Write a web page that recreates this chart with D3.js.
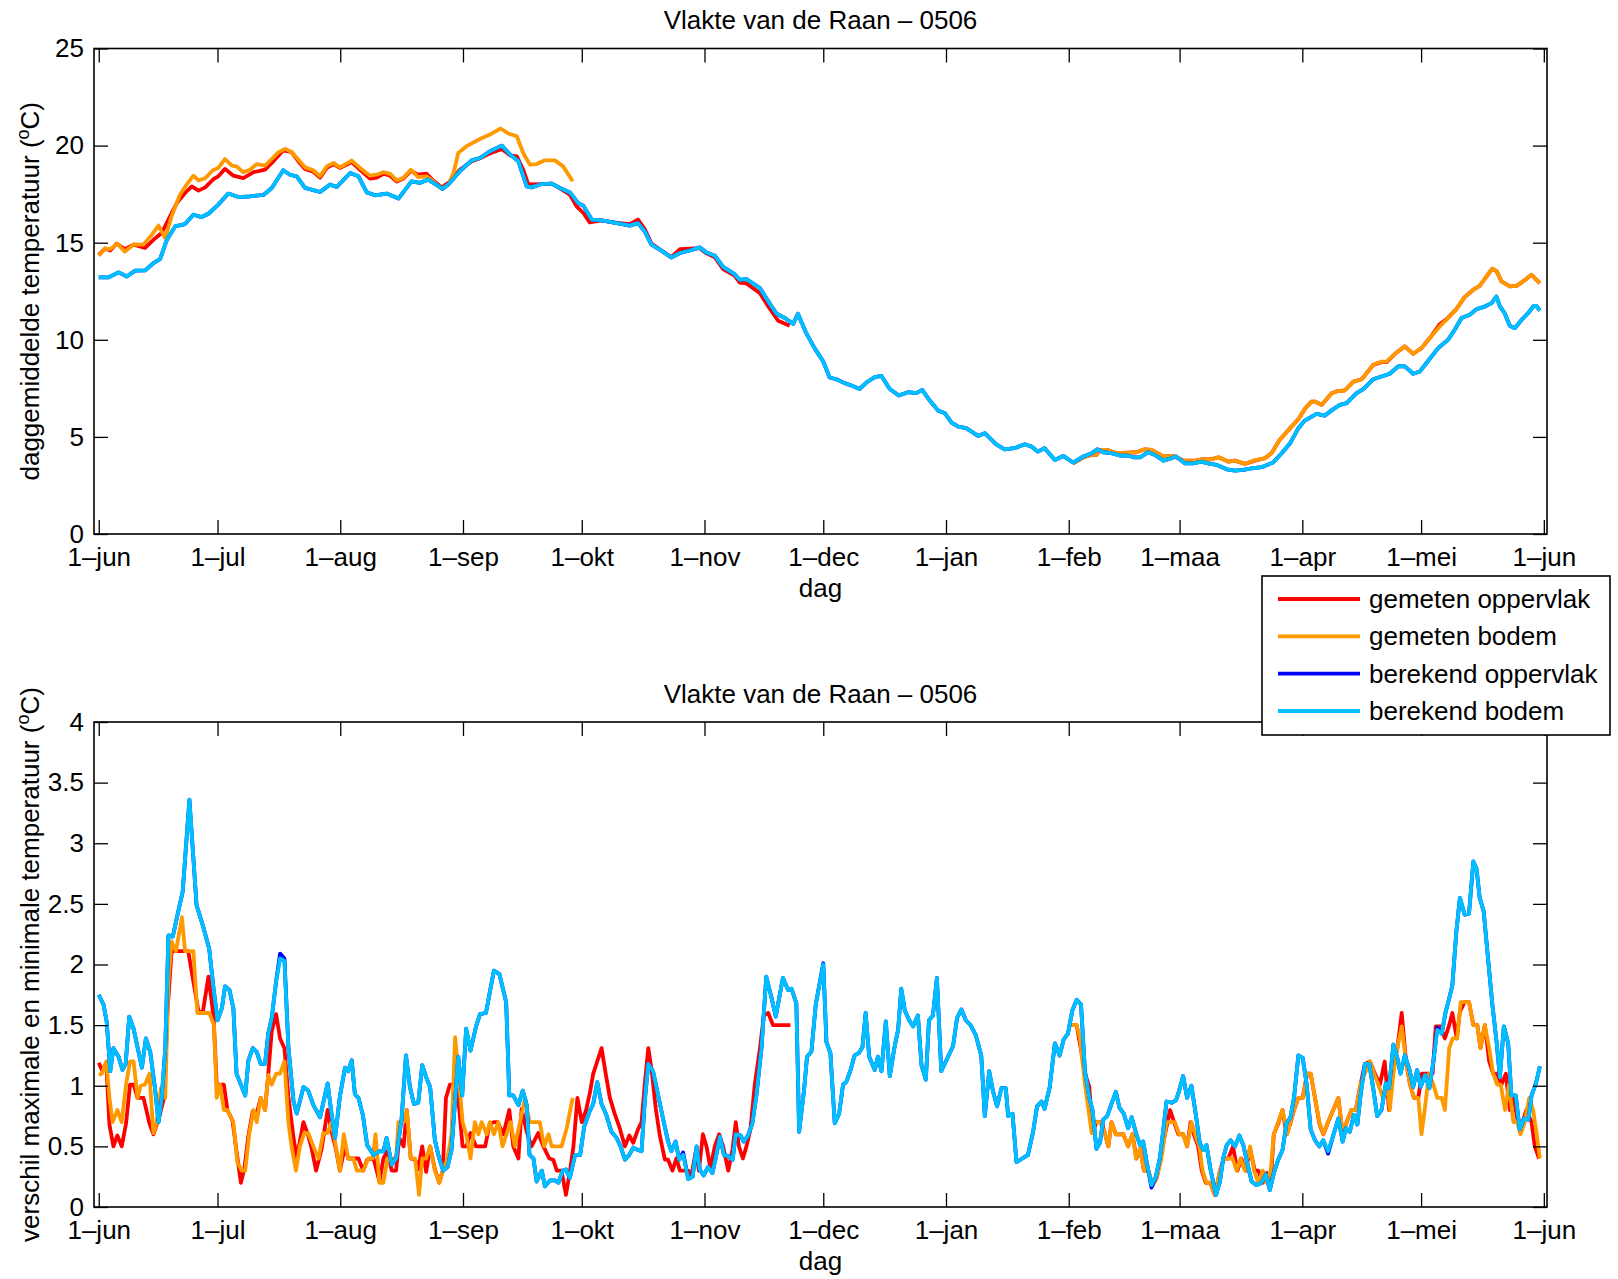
<!DOCTYPE html>
<html><head><meta charset="utf-8">
<script src="https://cdn.jsdelivr.net/npm/d3@7"></script>
<style>
body{margin:0;background:#fff}
svg text{font-family:"Liberation Sans",Arial,Helvetica,sans-serif;fill:#000}
</style>
</head><body>
<svg id="chart" width="1618" height="1279"></svg>
<script>
// ---------- data (day = days since 1 June 2005) ----------
const monthTicks = [0,30,61,92,122,153,183,214,245,273,304,334,365];
const monthLabels = ["1–jun","1–jul","1–aug","1–sep","1–okt","1–nov","1–dec","1–jan","1–feb","1–maa","1–apr","1–mei","1–jun"];
const topYTicks = [0,5,10,15,20,25];
const botYTicks = [0,0.5,1,1.5,2,2.5,3,3.5,4];
const seriesNames = ["gemeten oppervlak","gemeten bodem","berekend oppervlak","berekend bodem"];
const seriesColors = ["#ff0000","#ff9900","#0000ff","#00bfff"];

// daily mean temperature
const topGemetenOppervlak = [[0,14.38],[1.6,14.7],[2.9,14.6],[4.5,14.95],[6.6,14.67],[8.8,14.9],[11.7,14.73],[13.8,15.15],[15.9,15.5],[18,16.36],[19.7,17.04],[21.8,17.56],[23.5,17.9],[25.2,17.68],[26.9,17.85],[29,18.28],[30.2,18.42],[31.9,18.8],[34,18.45],[36.5,18.33],[39.1,18.63],[42,18.76],[43.7,19.11],[46.6,19.76],[48.7,19.66],[50.4,19.2],[52.1,18.8],[54.2,18.65],[55.9,18.35],[57.6,18.85],[59.3,19.05],[60.9,18.85],[63.9,19.15],[66,18.75],[68.5,18.3],[70.2,18.35],[71.9,18.55],[73.6,18.45],[75.3,18.15],[76.9,18.3],[78.8,18.7],[80.7,18.5],[82.8,18.55],[84.5,18.2],[86.6,17.85],[88.3,18.08],[91.2,18.75],[94.2,19.19],[96.3,19.35],[98.8,19.6],[101.8,19.83],[103.9,19.5],[105.6,19.45],[107.2,18.76],[108.5,18.0],[111.9,18.02],[114.4,18.04],[116.5,17.8],[119,17.47],[120.7,16.87],[122.4,16.53],[124,16.05],[127,16.15],[129.9,16.05],[134.1,15.95],[136.2,16.19],[137.9,15.7],[139.6,14.95],[142.1,14.6],[144.6,14.26],[146.8,14.67],[149.3,14.7],[151.8,14.72],[153.5,14.45],[155.6,14.25],[157.7,13.64],[160.6,13.3],[161.9,12.95],[163.6,12.9],[167,12.4],[169.1,11.72],[171.6,10.98],[174.5,10.72],null,
[246.1,3.64],[248.7,3.95],[250.8,4.07],[252,4.07],[252.9,4.33],[254.6,4.33],[257.1,4.16],[260,4.19],[262.1,4.21],[264.2,4.36],[265.9,4.33],[268.9,3.99],[271.4,4.02],[273.9,3.78],[276.9,3.78],[279,3.85],[281.1,3.85],[282.8,3.95],[285.3,3.73],[287,3.78],[289.5,3.61],[292,3.78],[294.5,3.9],[296.2,4.16],[298.3,4.85],[300.9,5.45],[303,5.91],[304.6,6.43],[306.3,6.82],[307.2,6.82],[308.9,6.65],[311.4,7.25],[312.6,7.34],[314.7,7.39],[316.9,7.85],[319,7.97],[321.9,8.71],[324,8.85],[325.3,8.85],[327.8,9.35],[329.9,9.66],[332,9.28],[334.1,9.57],[336.2,10.09],[338.7,10.8],[340.4,11.05],[342.9,11.58],[345,12.2],[347.2,12.58],[348.8,12.78],[350.5,13.26],[352,13.66],[353.1,13.52],[354.3,13.01],[356.4,12.75],[358.1,12.78],[359.8,13.01],[361.9,13.35],[362.7,13.18],[364,12.92]];

const topGemetenBodem = [[0,14.33],[1.6,14.7],[2.9,14.67],[4.7,14.95],[6.6,14.54],[8.8,14.91],[11.3,14.9],[13.4,15.41],[15.1,15.88],[16.8,15.24],[18.4,16.36],[20.5,17.47],[22.2,17.99],[23.9,18.45],[25.2,18.21],[26.9,18.32],[28.8,18.73],[30.2,18.85],[31.9,19.31],[33.6,18.97],[34.8,18.93],[36.5,18.63],[38.2,18.76],[39.9,19.05],[42,18.97],[43.7,19.31],[45.4,19.66],[47.1,19.83],[48.7,19.67],[50.4,19.28],[52.1,18.88],[54.2,18.73],[55.9,18.42],[57.6,18.93],[59.3,19.11],[60.9,18.88],[63.9,19.23],[66,18.85],[68.5,18.45],[70.2,18.5],[71.9,18.63],[73.6,18.54],[75.3,18.21],[76.9,18.33],[78.8,18.76],[80.7,18.38],[82.8,18.42],[84.5,18.16],[86.6,17.77],[88.3,17.99],[89.6,18.59],[90.8,19.62],[92.9,19.97],[96.3,20.34],[98.8,20.57],[101.5,20.88],[103.5,20.62],[105.6,20.48],[107.2,19.62],[108.9,19.02],[110.6,19.05],[112.7,19.24],[115.2,19.24],[117.3,18.93],[119.7,18.16],null,
[246.1,3.64],[248.7,3.95],[250.8,4.07],[252,4.07],[252.9,4.33],[254.6,4.33],[257.1,4.16],[260,4.19],[262.1,4.21],[264.2,4.36],[265.9,4.33],[268.9,3.99],[271.4,4.02],[273.9,3.78],[276.9,3.78],[279,3.85],[281.1,3.85],[282.8,3.95],[285.3,3.73],[287,3.78],[289.5,3.61],[292,3.81],[294.5,3.9],[296.2,4.16],[298.3,4.85],[300.9,5.45],[303,5.91],[304.6,6.43],[306.3,6.82],[307.2,6.82],[308.9,6.65],[311.4,7.25],[312.6,7.34],[314.7,7.39],[316.9,7.85],[319,7.97],[321.9,8.71],[324,8.88],[325.3,8.88],[327.8,9.35],[329.9,9.66],[332,9.28],[334.1,9.57],[336.2,10.09],[338.7,10.69],[340.4,11.03],[342.9,11.58],[345,12.2],[347.2,12.58],[348.8,12.78],[350.5,13.26],[352,13.66],[353.1,13.52],[354.3,13.01],[356.4,12.75],[358.1,12.78],[359.8,13.01],[361.9,13.35],[362.7,13.18],[364,12.92]];

const topBerekendOppervlak = [[0,13.21],[2.4,13.21],[5,13.47],[7.1,13.26],[9.2,13.56],[11.7,13.57],[13.8,13.95],[15.5,14.16],[17.2,15.15],[19.3,15.84],[21.8,15.96],[23.9,16.44],[26,16.32],[27.7,16.49],[30.2,16.96],[32.7,17.53],[35.3,17.35],[38.2,17.39],[41.6,17.46],[43.7,17.82],[46.6,18.73],[48.3,18.5],[50,18.42],[52.1,17.82],[55.9,17.61],[58.4,17.99],[60.1,17.87],[63.5,18.59],[65.6,18.42],[67.7,17.59],[69.8,17.44],[72.7,17.53],[75.7,17.27],[79,18.16],[81.1,18.08],[83.2,18.25],[86.9,17.77],[88.7,18.08],[91.2,18.68],[94.2,19.24],[96.3,19.36],[98.8,19.71],[101.8,20],[103.9,19.54],[106,19.19],[108.1,17.9],[109.3,17.85],[111.9,18.02],[114.4,18.04],[116.5,17.82],[119,17.59],[121.1,17.04],[122.4,16.91],[124.5,16.19],[127,16.15],[129.9,16.05],[134.1,15.88],[136.2,16.01],[137.9,15.58],[139.6,14.9],[142.1,14.59],[144.6,14.24],[146.8,14.47],[149.3,14.6],[151.8,14.76],[153.5,14.5],[155.6,14.33],[157.7,13.75],[160.6,13.38],[161.9,13.09],[163.6,13.13],[167,12.66],[169.1,11.98],[171.2,11.34],[173.3,11.12],[175.4,10.82],[176.6,11.34],[178.7,10.34],[180.8,9.57],[183,8.88],[184.6,8.06],[186.3,7.97],[188.4,7.77],[190.1,7.65],[192.2,7.47],[193.9,7.8],[196,8.08],[197.7,8.14],[199.8,7.47],[202.1,7.13],[204.4,7.3],[206.5,7.25],[208,7.42],[209.9,6.87],[212,6.36],[213.7,6.22],[215.4,5.74],[217.1,5.53],[219.1,5.45],[222.1,5.05],[223.8,5.19],[226.7,4.62],[228.8,4.36],[231.3,4.42],[233.9,4.62],[235.6,4.5],[237.2,4.24],[238.9,4.42],[241.5,3.81],[243.6,4.02],[246.1,3.68],[248.7,3.99],[250.8,4.16],[252.2,4.36],[253.7,4.21],[255.8,4.16],[257.9,4.04],[260,4.04],[261.3,3.95],[263,3.95],[265.1,4.21],[266.8,4.07],[268.9,3.78],[270.6,3.88],[272.1,3.99],[274.3,3.64],[276.4,3.64],[278.5,3.73],[280.2,3.64],[282.3,3.56],[284.9,3.33],[287,3.26],[289.1,3.3],[291.2,3.38],[293.7,3.44],[296.6,3.68],[298.8,4.16],[300.9,4.67],[303,5.45],[304.6,5.84],[307.6,6.19],[309.7,6.1],[311.8,6.43],[313.5,6.65],[315.2,6.74],[317.7,7.25],[319.4,7.46],[321.9,7.97],[324,8.11],[326.1,8.25],[328.2,8.63],[329.9,8.63],[332,8.25],[333.7,8.37],[335.8,8.92],[338.3,9.57],[340.8,10],[342.5,10.52],[344.2,11.12],[346.3,11.29],[348,11.58],[349.7,11.68],[351.8,11.89],[353,12.23],[353.9,11.72],[355.1,11.37],[356.4,10.72],[357.7,10.6],[359.4,11.03],[361,11.37],[362.5,11.75],[363.1,11.75],[364,11.51]];

const topBerekendBodem = [[0,13.21],[2.4,13.21],[5,13.47],[7.1,13.26],[9.2,13.56],[11.7,13.57],[13.8,13.95],[15.5,14.16],[17.2,15.15],[19.3,15.84],[21.8,15.96],[23.9,16.44],[26,16.32],[27.7,16.49],[30.2,16.96],[32.7,17.53],[35.3,17.35],[38.2,17.39],[41.6,17.46],[43.7,17.82],[46.6,18.73],[48.3,18.5],[50,18.42],[52.1,17.82],[55.9,17.61],[58.4,17.99],[60.1,17.87],[63.5,18.59],[65.6,18.42],[67.7,17.59],[69.8,17.44],[72.7,17.53],[75.7,17.27],[79,18.16],[81.1,18.08],[83.2,18.25],[86.9,17.77],[88.7,18.08],[91.2,18.68],[94.2,19.24],[96.3,19.36],[98.8,19.71],[101.8,20],[103.9,19.54],[106,19.19],[108.1,17.9],[109.3,17.85],[111.9,18.02],[114.4,18.04],[116.5,17.82],[119,17.59],[121.1,17.04],[122.4,16.91],[124.5,16.19],[127,16.15],[129.9,16.05],[134.1,15.88],[136.2,16.01],[137.9,15.58],[139.6,14.9],[142.1,14.59],[144.6,14.24],[146.8,14.47],[149.3,14.6],[151.8,14.76],[153.5,14.5],[155.6,14.33],[157.7,13.75],[160.6,13.38],[161.9,13.09],[163.6,13.13],[167,12.66],[169.1,11.98],[171.2,11.34],[173.3,11.12],[175.4,10.82],[176.6,11.34],[178.7,10.34],[180.8,9.57],[183,8.88],[184.6,8.06],[186.3,7.97],[188.4,7.77],[190.1,7.65],[192.2,7.47],[193.9,7.8],[196,8.08],[197.7,8.14],[199.8,7.47],[202.1,7.13],[204.4,7.3],[206.5,7.25],[208,7.42],[209.9,6.87],[212,6.36],[213.7,6.22],[215.4,5.74],[217.1,5.53],[219.1,5.45],[222.1,5.05],[223.8,5.19],[226.7,4.62],[228.8,4.36],[231.3,4.42],[233.9,4.62],[235.6,4.5],[237.2,4.24],[238.9,4.42],[241.5,3.81],[243.6,4.02],[246.1,3.68],[248.7,3.99],[250.8,4.16],[252.2,4.36],[253.7,4.21],[255.8,4.16],[257.9,4.04],[260,4.04],[261.3,3.95],[263,3.95],[265.1,4.21],[266.8,4.07],[268.9,3.78],[270.6,3.88],[272.1,3.99],[274.3,3.64],[276.4,3.64],[278.5,3.73],[280.2,3.64],[282.3,3.56],[284.9,3.33],[287,3.26],[289.1,3.3],[291.2,3.38],[293.7,3.44],[296.6,3.68],[298.8,4.16],[300.9,4.67],[303,5.45],[304.6,5.84],[307.6,6.19],[309.7,6.1],[311.8,6.43],[313.5,6.65],[315.2,6.74],[317.7,7.25],[319.4,7.46],[321.9,7.97],[324,8.11],[326.1,8.25],[328.2,8.63],[329.9,8.63],[332,8.25],[333.7,8.37],[335.8,8.92],[338.3,9.57],[340.8,10],[342.5,10.52],[344.2,11.12],[346.3,11.29],[348,11.58],[349.7,11.68],[351.8,11.89],[353,12.23],[353.9,11.72],[355.1,11.37],[356.4,10.72],[357.7,10.6],[359.4,11.03],[361,11.37],[362.5,11.75],[363.1,11.75],[364,11.51]];

// daily max - min difference
const botGemetenOppervlak = [[0,1.19],[0.8,1.13],[1.9,1.18],[2.7,0.68],[3.7,0.5],[4.7,0.59],[5.8,0.5],[6.9,0.69],[7.9,1.01],[8.8,1.01],[9.8,0.9],[11.3,0.9],[12.1,0.79],[12.8,0.69],[13.8,0.6],[15.1,0.72],[16.5,0.9],[17.3,1.58],[18.4,2.11],[19.5,2.11],[21,2.11],[22.6,2.11],[23.9,1.86],[25.2,1.61],[26.3,1.61],[27.7,1.9],[29,1.57],[29.8,1.01],[30.6,1.01],[31.6,1.01],[32.5,0.8],[33.8,0.71],[34.8,0.46],[35.9,0.2],[36.8,0.32],[37.8,0.59],[38.9,0.79],[39.9,0.77],[40.9,0.9],[42,0.8],[42.8,1.09],[43.7,1.45],[44.8,1.59],[45.8,1.39],[46.9,1.31],[47.9,0.91],[49.2,0.57],[50,0.4],[51.7,0.7],[52.9,0.59],[53.8,0.48],[54.9,0.3],[56.3,0.48],[57.8,0.8],[58.8,0.62],[59.9,0.48],[60.9,0.3],[62.2,0.5],[63,0.4],[64.3,0.4],[65.6,0.4],[66.8,0.3],[67.8,0.39],[69.4,0.4],[70.9,0.21],[71.9,0.4],[72.9,0.46],[74,0.3],[75.1,0.3],[75.9,0.57],[77,0.5],[77.8,0.8],[78.8,0.4],[79.9,0.39],[80.7,0.31],[81.7,0.5],[82.7,0.29],[83.7,0.5],[84.9,0.31],[86,0.2],[86.9,0.3],[87.7,0.9],[88.7,1.01],[90,1.01],[90.8,0.9],[91.9,0.5],[92.9,0.5],[93.9,0.61],[95.3,0.5],[96.3,0.5],[97.6,0.5],[98.7,0.68],[99.8,0.7],[100.7,0.7],[102.2,0.6],[103.7,0.8],[104.7,0.5],[106,0.4],[106.8,0.81],[108.1,0.62],[109.3,0.5],[111,0.61],[112.3,0.5],[113.8,0.4],[114.8,0.39],[115.7,0.3],[116.9,0.3],[118,0.1],[119,0.29],[119.9,0.5],[120.9,0.9],[122,0.7],[123.1,0.8],[124.1,0.95],[124.9,1.1],[125.9,1.2],[127,1.31],[128.1,1.09],[129.1,0.9],[130.3,0.77],[131.6,0.65],[132.9,0.5],[134,0.59],[135,0.53],[136.2,0.64],[137.1,0.7],[137.9,1.01],[138.8,1.31],[139.6,1.14],[140.7,0.81],[141.7,0.59],[143,0.39],[143.8,0.39],[144.9,0.3],[145.9,0.4],[146.8,0.3],[147.8,0.3],[148.9,0.3],[149.7,0.26],[150.8,0.46],[151.6,0.3],[152.6,0.6],[153.5,0.5],[154.5,0.32],[155.6,0.5],[156.7,0.6],[157.7,0.5],[159,0.3],[160.1,0.48],[160.9,0.7],[161.7,0.5],[162.7,0.4],[163.6,0.5],[164.6,0.64],[165.7,1.01],[167,1.31],[168,1.58],[169.1,1.6],[170.3,1.5],[172,1.5],[174.7,1.5],null,
[245.3,1.5],[247,1.5],[248.2,1.28],[249.1,1.1],[250.2,0.99],[251,0.61],[252,0.7],[253.3,0.7],[254.1,0.61],[255,0.5],[255.8,0.7],[256.9,0.6],[257.9,0.6],[258.8,0.6],[260,0.5],[261.1,0.6],[262.1,0.4],[263.1,0.48],[264,0.3],[265.1,0.3],[266.2,0.18],[267.2,0.24],[268.2,0.4],[269.3,0.6],[270.6,0.8],[271.6,0.7],[272.7,0.6],[273.9,0.6],[274.9,0.5],[275.8,0.7],[276.6,0.6],[277.7,0.5],[278.6,0.3],[279.6,0.2],[280.7,0.2],[281.9,0.1],[283.2,0.3],[284.2,0.4],[285.3,0.4],[286.5,0.5],[287.6,0.3],[288.6,0.4],[289.7,0.3],[290.8,0.48],[292,0.3],[292.9,0.3],[294,0.2],[295,0.28],[296,0.2],[296.8,0.6],[297.9,0.69],[299,0.8],[300,0.6],[301,0.69],[301.9,0.8],[303,0.9],[304.1,0.9],[305.2,1.1],[306.1,1.1],[307.2,0.9],[308.3,0.69],[309.3,0.6],[310.5,0.7],[311.8,0.8],[313.1,0.9],[314.2,0.6],[315.2,0.7],[316.4,0.8],[317.5,0.8],[318.7,1.01],[319.8,1.18],[321.1,1.2],[322.3,1.1],[323.6,1.01],[324.8,1.2],[325.9,0.8],[327,1.2],[328,1.31],[329.1,1.6],[330.2,1.2],[331.2,1.01],[332.2,0.9],[333.3,0.9],[334.2,1.1],[335.3,1.1],[336.9,1.1],[337.7,1.49],[338.9,1.49],[340,1.39],[341.1,1.5],[341.9,1.6],[343,1.39],[343.8,1.61],[345,1.69],[346.1,1.69],[347.2,1.5],[348.2,1.5],[349,1.31],[350.1,1.5],[351.2,1.2],[352.2,1.1],[353.2,1.1],[354.3,1.01],[355.4,1.1],[356.4,0.8],[357.4,0.9],[358.5,0.69],[359.6,0.7],[360.6,0.8],[361.9,0.7],[362.7,0.5],[363.8,0.4]];

const botGemetenBodem = [[0,1.09],[0.8,1.1],[1.9,1.2],[2.7,0.9],[3.5,0.7],[4.7,0.8],[5.8,0.7],[6.9,1.01],[7.9,1.2],[8.8,1.2],[9.8,0.9],[10.6,1.0],[11.7,1.01],[12.8,1.1],[13.8,0.61],[14.6,0.69],[15.7,0.98],[16.8,0.9],[17.6,1.86],[18.4,2.19],[19.5,2.11],[21,2.39],[21.8,2.11],[23.9,2.11],[24.9,1.6],[26.4,1.6],[27.9,1.6],[29.1,1.5],[29.8,0.9],[30.6,1.01],[31.6,0.8],[32.5,0.8],[34,0.7],[35,0.37],[36.1,0.3],[37,0.3],[38,0.6],[39.1,0.8],[39.9,0.7],[40.9,0.9],[42,0.8],[42.8,1.09],[43.7,1.01],[44.8,1.1],[45.8,1.1],[46.9,1.2],[47.9,0.7],[48.7,0.5],[49.8,0.3],[50.8,0.5],[51.9,0.61],[52.9,0.61],[54.2,0.5],[55.5,0.4],[56.7,0.61],[57.8,0.61],[58.8,0.7],[59.9,0.5],[60.9,0.3],[61.9,0.6],[63,0.4],[64.3,0.4],[65.2,0.3],[66.8,0.3],[68.1,0.4],[69.2,0.4],[69.9,0.6],[70.9,0.2],[71.9,0.2],[72.9,0.4],[74,0.4],[75.1,0.4],[75.7,0.7],[77,0.7],[77.8,0.8],[78.8,0.4],[79.9,0.4],[80.9,0.1],[81.7,0.4],[82.7,0.4],[83.7,0.5],[84.9,0.3],[86,0.2],[86.9,0.3],[88.1,0.4],[89.1,0.6],[90,1.4],[91.1,1.01],[91.9,0.7],[92.8,0.6],[93.9,0.4],[95,0.7],[95.9,0.6],[96.7,0.7],[98,0.6],[98.8,0.7],[99.8,0.6],[100.9,0.7],[102,0.5],[103,0.6],[104,0.7],[105.1,0.5],[106.4,0.7],[107.7,0.9],[108.8,0.7],[109.8,0.7],[111.4,0.7],[112.5,0.5],[113.6,0.6],[114.4,0.5],[115.7,0.5],[116.9,0.5],[118.2,0.65],[119.7,0.9],null,
[245.5,1.5],[247,1.5],[247.8,1.4],[249.1,1.01],[250.8,0.61],[251.6,0.7],[252.9,0.7],[254.1,0.61],[255,0.5],[255.8,0.7],[256.9,0.6],[258.8,0.6],[260,0.5],[261.1,0.6],[262,0.4],[263,0.48],[264,0.3],[265.1,0.3],[266.2,0.18],[267.4,0.26],[268.4,0.4],[269.7,0.7],[270.7,0.7],[271.8,0.7],[272.9,0.6],[273.9,0.6],[274.9,0.5],[276,0.7],[276.9,0.6],[278,0.5],[278.8,0.3],[279.8,0.2],[280.7,0.2],[281.9,0.1],[283.2,0.3],[284.2,0.4],[285.3,0.4],[286.4,0.4],[287.4,0.3],[288.4,0.4],[289.5,0.3],[290.8,0.5],[291.8,0.3],[292.9,0.2],[294,0.3],[295,0.2],[296,0.3],[296.8,0.6],[297.9,0.7],[299,0.8],[300.2,0.6],[301,0.7],[301.9,0.8],[303,0.9],[304.2,0.9],[305.2,1.1],[306.1,1.1],[307.2,0.9],[308.3,0.7],[309.3,0.6],[310.5,0.7],[311.8,0.8],[313.1,0.9],[314.2,0.6],[315.2,0.7],[316.4,0.8],[317.5,0.8],[318.7,1.01],[319.8,1.1],[321.1,1.2],[322.1,1.1],[323.2,1.01],[324.4,0.9],[325.4,1.01],[326.1,0.8],[327,1.1],[328,1.31],[329.1,1.49],[330.2,1.2],[331.2,1.01],[332.2,0.9],[333.3,0.9],[334.1,0.6],[334.9,0.8],[336,1.1],[337.1,1.01],[338.1,0.9],[339.2,0.9],[340,0.8],[341.1,1.31],[342,1.39],[343.1,1.39],[344,1.69],[345,1.69],[346.1,1.69],[347.2,1.5],[348.2,1.5],[349,1.31],[350.1,1.5],[351.2,1.31],[352.2,1.1],[353.2,1.01],[354.1,1.01],[355.2,0.8],[356.2,1.01],[357.3,0.7],[358.3,0.7],[359.1,0.6],[360.2,0.7],[361.3,0.9],[362.3,0.8],[363.2,0.6],[364,0.4]];

const botBerekendOppervlak = [[0,1.75],[1.2,1.67],[2,1.53],[2.9,1.12],[3.7,1.31],[5,1.24],[6,1.13],[6.8,1.18],[7.7,1.57],[8.8,1.47],[10.9,1.15],[11.9,1.39],[13,1.28],[14.2,0.98],[15.1,0.7],[15.9,0.9],[16.8,1.31],[17.6,2.24],[18.7,2.23],[20.1,2.44],[21.2,2.6],[22.9,3.36],[24.7,2.49],[26.4,2.31],[27.9,2.13],[29,1.8],[30,1.54],[31.1,1.64],[31.9,1.82],[33,1.79],[34,1.64],[34.8,1.1],[37,0.92],[37.8,1.21],[38.9,1.31],[39.9,1.28],[40.9,1.18],[42,1.18],[42.8,1.43],[43.7,1.56],[44.8,1.86],[45.8,2.09],[46.9,2.05],[47.9,1.32],[49.2,0.87],[50,0.77],[51.7,0.99],[52.9,0.96],[54.2,0.84],[55.9,0.74],[57.8,1.02],[58.8,0.77],[59.7,0.57],[60.9,0.91],[62.2,1.15],[63,1.12],[63.9,1.21],[64.7,0.93],[65.6,0.9],[66.7,0.76],[67.8,0.51],[69.4,0.43],[71,0.46],[71.9,0.46],[72.7,0.57],[74,0.35],[75.1,0.4],[76.5,0.73],[77.6,1.25],[78.6,0.99],[79.6,0.85],[80.7,0.86],[81.7,1.17],[82.7,1.07],[83.7,0.99],[84.9,0.55],[86,0.4],[87,0.3],[88.1,0.33],[89.1,0.47],[90.8,1.24],[91.8,0.92],[92.8,1.47],[93.9,1.29],[95.3,1.49],[96.3,1.59],[97.8,1.6],[99.8,1.95],[101.2,1.92],[102.9,1.69],[103.7,0.92],[104.7,0.92],[106,0.84],[107.1,0.96],[108.1,0.84],[108.8,0.43],[109.8,0.4],[110.6,0.21],[111.9,0.3],[112.7,0.17],[114,0.22],[115.2,0.22],[116.1,0.2],[117.2,0.3],[118,0.31],[119,0.24],[120.3,0.43],[121.6,0.43],[122.6,0.66],[124,0.79],[124.9,0.85],[125.9,1.03],[127,0.85],[128.2,0.76],[129.5,0.62],[130.8,0.57],[131.8,0.5],[132.9,0.39],[134,0.43],[135,0.49],[136.2,0.47],[137.1,0.46],[137.9,0.87],[138.8,1.18],[140,1.12],[141.3,0.92],[142.5,0.73],[143.8,0.54],[144.6,0.46],[145.7,0.54],[146.6,0.39],[147.6,0.45],[148.9,0.23],[150,0.25],[151,0.5],[151.8,0.31],[152.8,0.26],[153.9,0.33],[155,0.28],[155.8,0.4],[156.9,0.58],[157.9,0.43],[159,0.42],[160.1,0.39],[160.9,0.6],[162.1,0.59],[162.9,0.54],[164,0.59],[165.1,0.69],[166.1,0.92],[167.4,1.31],[168.6,1.9],[169.9,1.73],[171,1.57],[171.8,1.71],[172.8,1.89],[174.1,1.79],[175,1.8],[176.2,1.68],[176.9,0.62],[178.1,0.95],[178.9,1.24],[180,1.28],[181.1,1.67],[183,2.01],[183.8,1.36],[184.8,1.27],[185.9,0.69],[187,0.77],[188,1.01],[188.8,1.03],[189.8,1.12],[190.9,1.25],[192,1.27],[192.9,1.32],[193.7,1.6],[194.6,1.24],[196,1.13],[196.8,1.24],[197.7,1.12],[198.8,1.53],[199.8,1.08],[201,1.32],[201.9,1.46],[202.7,1.8],[203.6,1.62],[204.7,1.54],[205.7,1.49],[206.9,1.58],[207.8,1.17],[208.9,1.05],[209.7,1.54],[210.7,1.58],[211.7,1.89],[212.8,1.12],[214.1,1.21],[215.8,1.33],[216.8,1.56],[217.9,1.63],[219,1.54],[220.2,1.5],[221.5,1.42],[222.9,1.25],[223.8,0.75],[224.9,1.12],[225.9,0.95],[226.9,0.83],[228,0.98],[229.1,0.98],[229.7,0.75],[230.8,0.77],[231.8,0.37],[234.7,0.43],[236,0.62],[237,0.83],[238.1,0.87],[238.9,0.81],[240.2,0.99],[241.5,1.35],[242.7,1.25],[243.7,1.38],[244.8,1.43],[245.9,1.62],[247,1.71],[248.1,1.67],[249.1,1.12],[250.2,0.9],[251,0.8],[252,0.48],[252.9,0.53],[253.7,0.72],[254.7,0.75],[255.8,0.85],[256.9,0.95],[257.8,0.82],[258.9,0.77],[260,0.65],[260.9,0.74],[262,0.61],[263,0.51],[263.8,0.54],[264.8,0.35],[265.9,0.16],[267,0.25],[268,0.4],[268.9,0.64],[269.7,0.87],[271,0.86],[272.1,0.88],[272.9,0.96],[273.9,1.08],[274.9,0.9],[276,1.0],[277.1,0.76],[278.1,0.53],[279,0.47],[279.8,0.51],[280.8,0.31],[282.2,0.1],[283.2,0.21],[284,0.4],[284.9,0.51],[285.9,0.55],[287,0.5],[288.1,0.59],[289.1,0.51],[290.1,0.36],[291.2,0.21],[292.4,0.18],[293.7,0.2],[294.8,0.27],[295.8,0.14],[296.8,0.28],[297.9,0.39],[299,0.47],[300,0.69],[301,0.74],[301.9,0.9],[303,1.25],[304.1,1.23],[305.1,1.01],[306.1,0.64],[307.2,0.55],[308.3,0.5],[309.3,0.55],[310.5,0.44],[311.8,0.59],[313.1,0.73],[314.2,0.54],[315,0.65],[316,0.62],[317,0.76],[317.9,0.68],[318.7,0.92],[319.8,1.18],[320.9,1.18],[321.9,0.98],[322.9,0.75],[324,0.8],[325.1,1.02],[325.9,0.98],[327,1.34],[328,1.23],[328.8,1.1],[329.9,1.25],[331,1.14],[332,0.99],[333,1.13],[333.9,0.99],[335,1.09],[336.1,0.98],[337.1,1.2],[338.1,1.48],[339.2,1.43],[340.2,1.61],[341.1,1.72],[341.9,1.83],[342.9,2.27],[343.8,2.55],[345,2.41],[346.1,2.42],[347.2,2.85],[348,2.79],[348.8,2.55],[349.8,2.44],[350.9,2.05],[352,1.67],[353.1,1.35],[353.9,1.07],[354.9,1.49],[356,1.35],[356.8,0.92],[357.9,0.92],[358.9,0.64],[360,0.73],[361.1,0.72],[361.9,0.92],[363,1.02],[364,1.16]];

const botBerekendBodem = [[0,1.75],[1.2,1.67],[2,1.53],[2.9,1.12],[3.7,1.31],[5,1.24],[6,1.13],[6.8,1.18],[7.7,1.57],[8.8,1.47],[10.9,1.15],[11.9,1.39],[13,1.28],[14.2,0.98],[15.1,0.7],[15.9,0.9],[16.8,1.31],[17.6,2.24],[18.7,2.23],[20.1,2.44],[21.2,2.6],[22.9,3.36],[24.7,2.49],[26.4,2.31],[27.9,2.13],[29,1.8],[30,1.54],[31.1,1.64],[31.9,1.82],[33,1.79],[34,1.64],[34.8,1.1],[37,0.92],[37.8,1.21],[38.9,1.31],[39.9,1.28],[40.9,1.18],[42,1.18],[42.8,1.43],[43.7,1.56],[44.8,1.86],[45.8,2.05],[46.9,2.03],[47.9,1.32],[49.2,0.87],[50,0.77],[51.7,0.99],[52.9,0.96],[54.2,0.84],[55.9,0.74],[57.8,1.02],[58.8,0.77],[59.7,0.57],[60.9,0.91],[62.2,1.15],[63,1.12],[63.9,1.21],[64.7,0.93],[65.6,0.9],[66.7,0.76],[67.8,0.51],[69.4,0.43],[71,0.46],[71.9,0.46],[72.7,0.57],[74,0.35],[75.1,0.4],[76.5,0.73],[77.6,1.25],[78.6,0.99],[79.6,0.85],[80.7,0.86],[81.7,1.17],[82.7,1.07],[83.7,0.99],[84.9,0.55],[86,0.4],[87,0.3],[88.1,0.33],[89.1,0.47],[90.8,1.24],[91.8,0.92],[92.8,1.47],[93.9,1.29],[95.3,1.49],[96.3,1.59],[97.8,1.6],[99.8,1.95],[101.2,1.92],[102.9,1.69],[103.7,0.92],[104.7,0.92],[106,0.84],[107.1,0.96],[108.1,0.84],[108.8,0.43],[109.8,0.4],[110.6,0.21],[111.9,0.3],[112.7,0.17],[114,0.22],[115.2,0.22],[116.1,0.2],[117.2,0.3],[118,0.31],[119,0.24],[120.3,0.43],[121.6,0.43],[122.6,0.66],[124,0.79],[124.9,0.85],[125.9,1.03],[127,0.85],[128.2,0.76],[129.5,0.62],[130.8,0.57],[131.8,0.5],[132.9,0.39],[134,0.43],[135,0.49],[136.2,0.47],[137.1,0.46],[137.9,0.87],[138.8,1.18],[140,1.12],[141.3,0.92],[142.5,0.73],[143.8,0.54],[144.6,0.46],[145.7,0.54],[146.6,0.39],[147.6,0.43],[148.9,0.23],[150,0.25],[151,0.5],[151.8,0.31],[152.8,0.26],[153.9,0.33],[155,0.28],[155.8,0.4],[156.9,0.58],[157.9,0.43],[159,0.42],[160.1,0.39],[160.9,0.6],[162.1,0.59],[162.9,0.54],[164,0.59],[165.1,0.69],[166.1,0.92],[167.4,1.31],[168.6,1.9],[169.9,1.73],[171,1.57],[171.8,1.71],[172.8,1.89],[174.1,1.79],[175,1.8],[176.2,1.68],[176.9,0.62],[178.1,0.95],[178.9,1.24],[180,1.28],[181.1,1.67],[183,2.0],[183.8,1.36],[184.8,1.27],[185.9,0.69],[187,0.77],[188,1.01],[188.8,1.03],[189.8,1.12],[190.9,1.25],[192,1.27],[192.9,1.32],[193.7,1.6],[194.6,1.24],[196,1.13],[196.8,1.24],[197.7,1.12],[198.8,1.53],[199.8,1.08],[201,1.32],[201.9,1.46],[202.7,1.8],[203.6,1.62],[204.7,1.54],[205.7,1.49],[206.9,1.58],[207.8,1.17],[208.9,1.05],[209.7,1.54],[210.7,1.58],[211.7,1.89],[212.8,1.12],[214.1,1.21],[215.8,1.33],[216.8,1.56],[217.9,1.63],[219,1.54],[220.2,1.5],[221.5,1.42],[222.9,1.25],[223.8,0.75],[224.9,1.12],[225.9,0.95],[226.9,0.83],[228,0.98],[229.1,0.98],[229.7,0.75],[230.8,0.77],[231.8,0.37],[234.7,0.43],[236,0.62],[237,0.83],[238.1,0.87],[238.9,0.81],[240.2,0.99],[241.5,1.35],[242.7,1.25],[243.7,1.38],[244.8,1.43],[245.9,1.62],[247,1.71],[248.1,1.67],[249.1,1.12],[250.2,0.9],[251,0.8],[252,0.48],[252.9,0.53],[253.7,0.72],[254.7,0.75],[255.8,0.85],[256.9,0.95],[257.8,0.82],[258.9,0.77],[260,0.65],[260.9,0.74],[262,0.61],[263,0.51],[263.8,0.54],[264.8,0.35],[265.9,0.18],[267,0.25],[268,0.4],[268.9,0.64],[269.7,0.87],[271,0.86],[272.1,0.88],[272.9,0.96],[273.9,1.08],[274.9,0.9],[276,1.0],[277.1,0.76],[278.1,0.53],[279,0.47],[279.8,0.51],[280.8,0.31],[282.2,0.1],[283.2,0.21],[284,0.4],[284.9,0.51],[285.9,0.55],[287,0.5],[288.1,0.59],[289.1,0.51],[290.1,0.36],[291.2,0.21],[292.4,0.18],[293.7,0.2],[294.8,0.27],[295.8,0.14],[296.8,0.28],[297.9,0.39],[299,0.47],[300,0.69],[301,0.74],[301.9,0.9],[303,1.25],[304.1,1.23],[305.1,1.01],[306.1,0.64],[307.2,0.55],[308.3,0.5],[309.3,0.55],[310.5,0.46],[311.8,0.59],[313.1,0.73],[314.2,0.54],[315,0.65],[316,0.62],[317,0.76],[317.9,0.68],[318.7,0.92],[319.8,1.18],[320.9,1.18],[321.9,0.98],[322.9,0.75],[324,0.8],[325.1,1.02],[325.9,0.98],[327,1.34],[328,1.23],[328.8,1.1],[329.9,1.25],[331,1.14],[332,0.99],[333,1.13],[333.9,0.99],[335,1.09],[336.1,0.98],[337.1,1.2],[338.1,1.46],[339.2,1.43],[340.2,1.61],[341.1,1.72],[341.9,1.83],[342.9,2.27],[343.8,2.55],[345,2.41],[346.1,2.42],[347.2,2.85],[348,2.79],[348.8,2.55],[349.8,2.44],[350.9,2.05],[352,1.67],[353.1,1.35],[353.9,1.07],[354.9,1.49],[356,1.35],[356.8,0.92],[357.9,0.92],[358.9,0.64],[360,0.73],[361.1,0.72],[361.9,0.92],[363,1.02],[364,1.16]];

// ---------- drawing ----------
const FONT = 26;
const svg = d3.select("#chart");
const xDomain = [-1.2, 365.8];
const xLeft = 94, xRight = 1547;
const x = d3.scaleLinear().domain(xDomain).range([xLeft, xRight]);

const panels = [
  {top: 48.5, bottom: 534, yMax: 25, yTicks: topYTicks,
   ylabel: "daggemiddelde temperatuur (",
   series: [topGemetenOppervlak, topGemetenBodem, topBerekendOppervlak, topBerekendBodem]},
  {top: 722, bottom: 1207, yMax: 4, yTicks: botYTicks,
   ylabel: "verschil maximale en minimale temperatuur (",
   series: [botGemetenOppervlak, botGemetenBodem, botBerekendOppervlak, botBerekendBodem]}
];

panels.forEach(p => {
  const y = d3.scaleLinear().domain([0, p.yMax]).range([p.bottom, p.top]);
  const g = svg.append("g");

  // clip
  const clipId = "clip" + p.top;
  svg.append("clipPath").attr("id", clipId).append("rect")
    .attr("x", xLeft).attr("y", p.top).attr("width", xRight - xLeft).attr("height", p.bottom - p.top);

  // lines
  const line = d3.line().defined(d => d !== null).x(d => x(d[0])).y(d => y(d[1]));
  p.series.forEach((s, i) => {
    g.append("path").attr("d", line(s)).attr("fill", "none")
      .attr("stroke", seriesColors[i]).attr("stroke-width", 3.8)
      .attr("stroke-linejoin", "round").attr("stroke-linecap", "butt")
      .attr("clip-path", `url(#${clipId})`);
  });

  // axes
  const ax = (axis, tx, ty) => {
    const a = g.append("g").attr("transform", `translate(${tx},${ty})`).call(axis);
    a.select(".domain").remove();
    a.selectAll(".tick line").attr("stroke", "#000").attr("stroke-width", 1.3);
    a.selectAll("text").attr("font-size", FONT).attr("fill", "#000")
      .style("font-family", '"Liberation Sans", Arial, sans-serif');
    return a;
  };
  ax(d3.axisBottom(x).tickValues(monthTicks).tickFormat((d, i) => monthLabels[i])
      .tickSizeInner(-14).tickSizeOuter(0).tickPadding(14), 0, p.bottom);
  ax(d3.axisTop(x).tickValues(monthTicks).tickFormat("")
      .tickSizeInner(-14).tickSizeOuter(0), 0, p.top);
  ax(d3.axisLeft(y).tickValues(p.yTicks).tickFormat(d3.format("~g"))
      .tickSizeInner(-14).tickSizeOuter(0).tickPadding(10), xLeft, 0);
  ax(d3.axisRight(y).tickValues(p.yTicks).tickFormat("")
      .tickSizeInner(-14).tickSizeOuter(0), xRight, 0);

  // box
  g.append("rect").attr("x", xLeft).attr("y", p.top)
    .attr("width", xRight - xLeft).attr("height", p.bottom - p.top)
    .attr("fill", "none").attr("stroke", "#000").attr("stroke-width", 1.6);

  // title
  g.append("text").attr("x", (xLeft + xRight) / 2).attr("y", p.top - 19.5)
    .attr("text-anchor", "middle").attr("font-size", FONT).text("Vlakte van de Raan – 0506");

  // x label
  g.append("text").attr("x", (xLeft + xRight) / 2).attr("y", p.bottom + 63)
    .attr("text-anchor", "middle").attr("font-size", FONT).text("dag");

  // y label
  const yl = g.append("text")
    .attr("transform", `translate(38.5,${(p.top + p.bottom) / 2}) rotate(-90)`)
    .attr("text-anchor", "middle").attr("font-size", FONT);
  yl.append("tspan").text(p.ylabel);
  yl.append("tspan").attr("font-size", 18).attr("dy", -10).text("o");
  yl.append("tspan").attr("dy", 10).text("C)");
});

// legend
const lg = svg.append("g");
lg.append("rect").attr("x", 1262).attr("y", 576).attr("width", 348).attr("height", 159)
  .attr("fill", "#fff").attr("stroke", "#000").attr("stroke-width", 1.6);
const legendRow = d3.scaleLinear().domain([0, 3]).range([599, 711]);
seriesNames.forEach((name, i) => {
  const ry = legendRow(i);
  lg.append("line").attr("x1", 1278).attr("x2", 1360).attr("y1", ry).attr("y2", ry)
    .attr("stroke", seriesColors[i]).attr("stroke-width", 3.8);
  lg.append("text").attr("x", 1369).attr("y", ry).attr("dy", "0.35em")
    .attr("font-size", FONT).text(name);
});
</script>
</body></html>
